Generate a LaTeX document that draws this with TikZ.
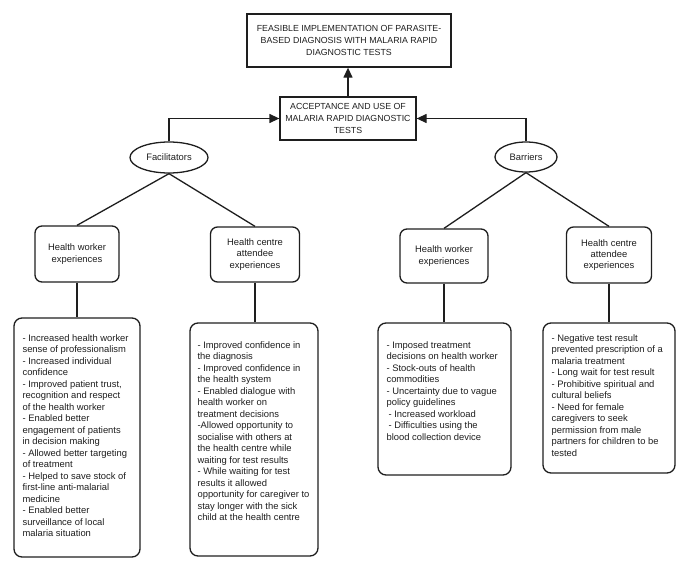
\documentclass[tikz,border=0pt]{standalone}
\usepackage{fontspec}
\setmainfont{Liberation Sans}
\usetikzlibrary{shapes.geometric,arrows.meta}
\definecolor{ink}{HTML}{1E1E1E}
\tikzset{
  line/.style={draw=ink,line width=1.3pt},
  arr/.style={line,-{Triangle[length=10pt,width=9pt]}},
  capbox/.style={draw=ink,line width=1.3pt,rectangle,inner sep=0pt,align=center,text=ink,
     font=\fontsize{8.8}{11.6}\selectfont},
  oval/.style={draw=ink,line width=1.3pt,ellipse,inner sep=0pt,text=ink,font=\fontsize{9.4}{11.5}\selectfont},
  catbox/.style={draw=ink,line width=1.3pt,rectangle,rounded corners=7pt,inner sep=0pt,align=center,text=ink,
     font=\fontsize{9.4}{11.2}\selectfont},
  listbox/.style={draw=ink,line width=1.3pt,rectangle,rounded corners=8pt,inner sep=0pt},
  listtext/.style={anchor=north west,inner sep=0pt,align=left,text=ink,font=\fontsize{9.4}{11.5}\selectfont},
}
\begin{document}
\begin{tikzpicture}[x=1pt,y=-1pt]
\useasboundingbox (0,0) rectangle (685,570);
% top boxes
\node[capbox,minimum width=204pt,minimum height=53pt] (top) at (349,40.5)
  {FEASIBLE IMPLEMENTATION OF PARASITE-\\BASED DIAGNOSIS WITH MALARIA RAPID\\DIAGNOSTIC TESTS};
\node[capbox,minimum width=136pt,minimum height=43pt] (acc) at (348,118.5)
  {ACCEPTANCE AND USE OF\\MALARIA RAPID DIAGNOSTIC\\TESTS};
% ellipses
\node[oval,minimum width=78pt,minimum height=31pt] (fac) at (169,157.5) {Facilitators};
\node[oval,minimum width=62pt,minimum height=30pt] (bar) at (526,157) {Barriers};
% category boxes
\node[catbox,minimum width=84pt,minimum height=56pt] (hw1) at (77,254) {Health worker\\experiences};
\node[catbox,minimum width=89pt,minimum height=55pt] (hc1) at (255,254.5) {Health centre\\attendee\\experiences};
\node[catbox,minimum width=88pt,minimum height=54pt] (hw2) at (444,256) {Health worker\\experiences};
\node[catbox,minimum width=85pt,minimum height=56pt] (hc2) at (609,255) {Health centre\\attendee\\experiences};
% list boxes
\node[listbox,minimum width=126pt,minimum height=239pt] (l1) at (77,437.5) {};
\node[listbox,minimum width=128pt,minimum height=233pt] (l2) at (254,439.5) {};
\node[listbox,minimum width=133pt,minimum height=152pt] (l3) at (444.5,399) {};
\node[listbox,minimum width=132pt,minimum height=150pt] (l4) at (609,398) {};
\node[listtext] (t1) at ([xshift=9pt,yshift=-17pt]l1.north west) {%
- Increased health worker\\
sense of professionalism\\
- Increased individual\\
confidence\\
- Improved patient trust,\\
recognition and respect\\
of the health worker\\
- Enabled better\\
engagement of patients\\
in decision making\\
- Allowed better targeting\\
of treatment\\
- Helped to save stock of\\
first-line anti-malarial\\
medicine\\
- Enabled better\\
surveillance of local\\
malaria situation};
\node[listtext] (t2) at ([xshift=8pt,yshift=-19pt]l2.north west) {%
- Improved confidence in\\
the diagnosis\\
- Improved confidence in\\
the health system\\
- Enabled dialogue with\\
health worker on\\
treatment decisions\\
-Allowed opportunity to\\
socialise with others at\\
the health centre while\\
waiting for test results\\
- While waiting for test\\
results it allowed\\
opportunity for caregiver to\\
stay longer with the sick\\
child at the health centre};
\node[listtext] (t3) at ([xshift=9pt,yshift=-19pt]l3.north west) {%
- Imposed treatment\\
decisions on health worker\\
- Stock-outs of health\\
commodities\\
- Uncertainty due to vague\\
policy guidelines\\
\hspace*{2pt}- Increased workload\\
\hspace*{2pt}- Difficulties using the\\
blood collection device};
\node[listtext] (t4) at ([xshift=9pt,yshift=-12pt]l4.north west) {%
- Negative test result\\
prevented prescription of a\\
malaria treatment\\
- Long wait for test result\\
- Prohibitive spiritual and\\
cultural beliefs\\
- Need for female\\
caregivers to seek\\
permission from male\\
partners for children to be\\
tested};
% connectors
\draw[arr] (acc.north) -- (acc.north |- top.south);
\draw[arr] (fac.north) |- (acc.west);
\draw[arr] (bar.north) |- (acc.east);
\draw[line] (fac.south) -- (hw1.north);
\draw[line] (fac.south) -- (hc1.north);
\draw[line] (bar.south) -- (hw2.north);
\draw[line] (bar.south) -- (hc2.north);
\draw[line] (hw1.south) -- (hw1.south |- l1.north);
\draw[line] (hc1.south) -- (hc1.south |- l2.north);
\draw[line] (hw2.south) -- (hw2.south |- l3.north);
\draw[line] (hc2.south) -- (hc2.south |- l4.north);
\end{tikzpicture}
\end{document}
